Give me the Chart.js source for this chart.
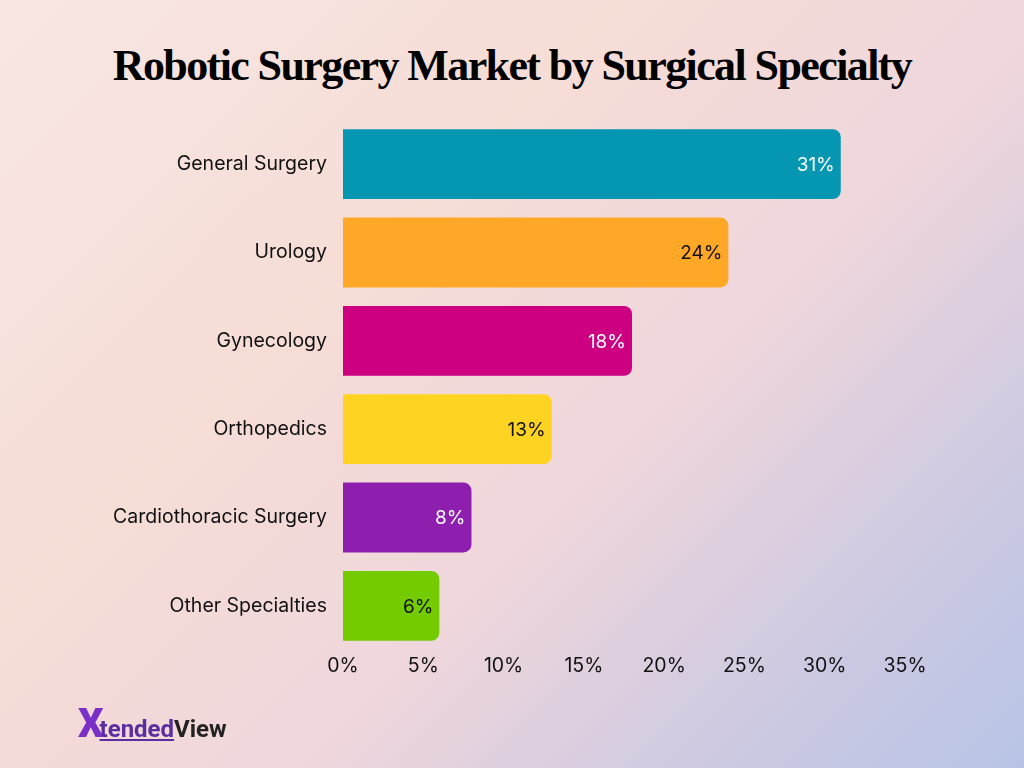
<!DOCTYPE html>
<html><head><meta charset="utf-8">
<script src="https://cdn.jsdelivr.net/npm/chart.js@4"></script>
<style>
body{margin:0;width:1024px;height:768px;overflow:hidden;
background:linear-gradient(135deg,#f8e6e3 0%,#f6ddd6 35%,#efd6dc 60%,#c9c8e2 85%,#b8c4e6 100%);font-family:Inter,sans-serif}
#title{position:absolute;top:40px;left:0;width:1024px;text-align:center;font-family:"Liberation Serif",serif;font-weight:bold;font-size:44px;letter-spacing:-1.6px;color:#000}
canvas{position:absolute;left:0;top:0}
#logo{position:absolute;left:78px;top:700px;font-family:Roboto,sans-serif;font-weight:bold;font-size:24px;color:#222}
#logo .x{color:#7a2fc9;font-size:40px;font-weight:900;margin-right:-4px}
</style></head><body>
<div id="title">Robotic Surgery Market by Surgical Specialty</div>
<canvas id="c" width="1024" height="768"></canvas>
<div id="logo"><span class="x">X</span><span style="color:#5b2ea0;text-decoration:underline">tended</span>View</div>
<script>
const categories = ["General Surgery","Urology","Gynecology","Orthopedics","Cardiothoracic Surgery","Other Specialties"];
const shares = [31,24,18,13,8,6];
const barColors = ["#0597b2","#ffa726","#cc0080","#ffd322","#8e1fae","#74cc00"];
const labelColors = ["#fff","#111","#fff","#111","#fff","#111"];
const xTicks = [0,5,10,15,20,25,30,35];

const valueLabels = {
  id:"valueLabels",
  afterDatasetsDraw(chart){
    const ctx = chart.ctx;
    chart.getDatasetMeta(0).data.forEach((bar,i)=>{
      ctx.save();
      ctx.font = "19px Inter";
      ctx.fillStyle = labelColors[i];
      ctx.textAlign = "right";
      ctx.textBaseline = "middle";
      ctx.fillText(shares[i]+"%", bar.x-6, bar.y+1);
      ctx.restore();
    });
  }
};

new Chart(document.getElementById("c"), {
  type:"bar",
  data:{labels:categories,datasets:[{data:shares,backgroundColor:barColors,
    borderRadius:{topRight:8,bottomRight:8},borderSkipped:false,
    barPercentage:0.79,categoryPercentage:1}]},
  options:{
    indexAxis:"y",responsive:false,animation:false,
    layout:{padding:{top:120,right:119,left:0,bottom:0}},
    plugins:{legend:{display:false},tooltip:{enabled:false}},
    scales:{
      x:{min:0,max:35,grid:{display:false},border:{display:false},
        afterBuildTicks:s=>{s.ticks=xTicks.map(v=>({value:v}));},
        afterFit:s=>{s.height=118;},
        ticks:{color:"#111",font:{size:19.5,family:"Inter"},padding:-4,callback:v=>v+"%"}},
      y:{grid:{display:false},border:{display:false},
        afterFit:s=>{s.width=343;},
        ticks:{color:"#111",font:{size:19.5,family:"Inter"},padding:8}}
    }
  },
  plugins:[valueLabels]
});
</script>
</body></html>
